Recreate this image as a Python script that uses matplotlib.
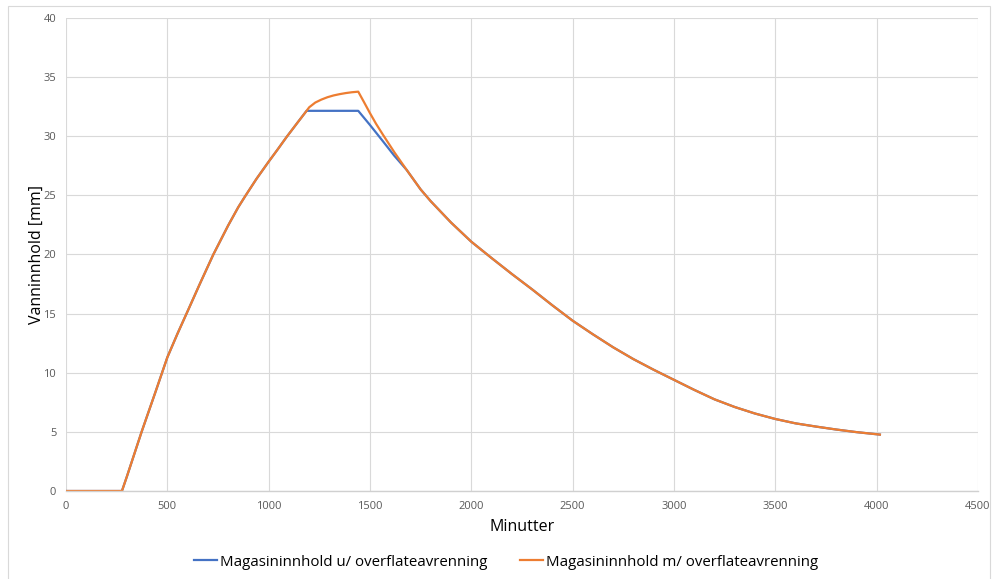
import matplotlib
matplotlib.use("Agg")
import matplotlib.pyplot as plt
from matplotlib.patches import Rectangle

plt.rcParams['font.family'] = ['Open Sans', 'DejaVu Sans']

# Shared rising limb (both series identical up to the storage cap)
rise_min = [0, 100, 200, 276, 300, 373, 440, 500, 550, 600, 660, 727, 800, 850,
            883, 940, 1000, 1045, 1089, 1140, 1187]
rise_mm = [0, 0, 0, 0, 1.2, 5.0, 8.3, 11.3, 13.3, 15.2, 17.5, 20.0, 22.45, 24.0,
           24.9, 26.4, 27.85, 28.9, 29.95, 31.1, 32.15]

# Without surface runoff: flat at capacity, then drawdown
capped_min = [1442, 1500, 1565, 1620, 1681]
capped_mm = [32.15, 30.95, 29.55, 28.35, 27.15]

# With surface runoff: keeps rising past capacity, then drops back
peak_min = [1200, 1230, 1260, 1290, 1320, 1350, 1380, 1410, 1442,
            1470, 1500, 1530, 1565, 1620, 1681]
peak_mm = [32.45, 32.85, 33.1, 33.3, 33.45, 33.56, 33.65, 33.72, 33.77,
           32.9, 31.95, 31.05, 30.1, 28.65, 27.15]

# Shared recession limb
decay_min = [1750, 1800, 1900, 2000, 2100, 2200, 2300, 2400, 2500, 2600, 2700,
             2800, 2900, 3000, 3100, 3200, 3300, 3400, 3500, 3600, 3700, 3800,
             3900, 4016]
decay_mm = [25.5, 24.5, 22.7, 21.08, 19.7, 18.35, 17.05, 15.7, 14.4, 13.25, 12.15,
            11.15, 10.25, 9.4, 8.55, 7.75, 7.1, 6.55, 6.09, 5.72, 5.45, 5.2,
            4.98, 4.77]

x_u = rise_min + capped_min + decay_min
y_u = rise_mm + capped_mm + decay_mm
x_m = rise_min + peak_min + decay_min
y_m = rise_mm + peak_mm + decay_mm

label_u = "Magasininnhold u/ overflateavrenning"
label_m = "Magasininnhold m/ overflateavrenning"

fig = plt.figure(figsize=(9.92, 5.79), dpi=100)
ax = fig.add_axes([66 / 992, 1 - 491 / 579, (978 - 66) / 992, (491 - 18) / 579])

ax.plot(x_u, y_u, color="#4472C4", lw=1.6, label=label_u, solid_joinstyle="round")
ax.plot(x_m, y_m, color="#ED7D31", lw=1.6, label=label_m, solid_joinstyle="round")

ax.set_xlim(0, 4500)
ax.set_ylim(0, 40)
ax.set_xticks(range(0, 4501, 500))
ax.set_yticks(range(0, 41, 5))
ax.grid(True, color="#d9d9d9", lw=0.8)
ax.set_axisbelow(True)
for s in ["top", "right", "left"]:
    ax.spines[s].set_visible(False)
ax.spines["bottom"].set_color("#d0d0d0")
ax.spines["bottom"].set_linewidth(1.0)
ax.tick_params(length=0, labelsize=8, colors="#595959", pad=7)

ax.set_xlabel("Minutter", fontsize=11.5, color="#000000", labelpad=5)
ax.set_ylabel("Vanninnhold [mm]", fontsize=11.5, color="#000000", labelpad=-1)

fig.legend(loc="center", bbox_to_anchor=(506 / 992, 1 - 562 / 579), ncol=2,
           frameon=False, fontsize=10.8, handlelength=1.5, handletextpad=0.2,
           columnspacing=2.2)

fig.patches.append(Rectangle((8 / 992, -0.01), (990 - 8) / 992, (579 - 6) / 579 + 0.01,
                             transform=fig.transFigure, fill=False,
                             edgecolor="#d9d9d9", lw=0.8))

fig.savefig("out.png", dpi=100, facecolor="white")
